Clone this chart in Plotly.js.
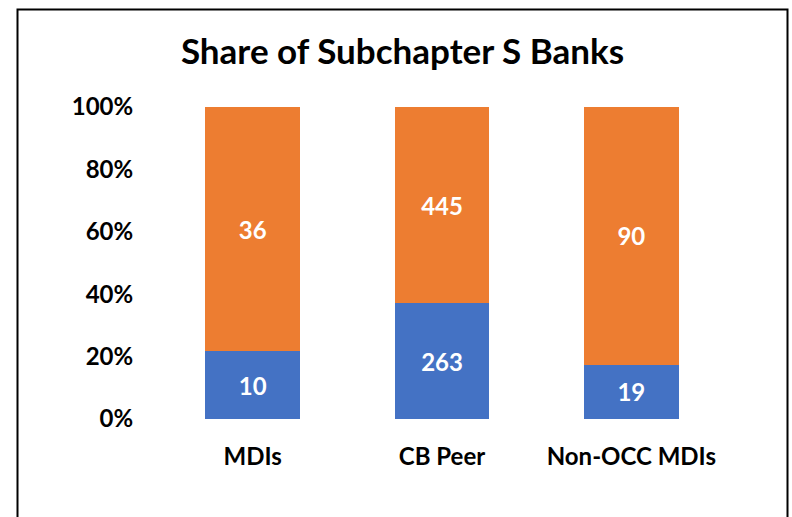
<!DOCTYPE html>
<html>
<head>
<meta charset="utf-8">
<script src="https://cdn.plot.ly/plotly-3.0.1.min.js"></script>
<style>body{margin:0;background:#fff}#chart{width:792px;height:517px}</style>
</head>
<body>
<div id="chart"></div>
<script>
const categories = ["MDIs", "CB Peer", "Non-OCC MDIs"];
const subchapterS = [10, 263, 19];
const notSubchapterS = [36, 445, 90];
const seriesNames = ["Subchapter S", "Not Subchapter S"];
const yTickVals = [0, 20, 40, 60, 80, 100];
const yTickText = ["0%", "20%", "40%", "60%", "80%", "100%"];

const FONT = "Lato, 'Open Sans', sans-serif";
const W = 792, H = 517;
const L = 158, R = 66, T = 107, B = 98;
const pw = W - L - R, ph = H - T - B;
function px(x){ return (x - L) / pw; }
function py(y){ return (H - B - y) / ph; }

const traces = [
  {type: "bar", name: seriesNames[0], x: categories, y: subchapterS,
   text: subchapterS.map(String), textposition: "inside", insidetextanchor: "middle",
   constraintext: "none", textfont: {family: FONT, size: 24, color: "#ffffff", weight: 700},
   marker: {color: "#4472C4"}, hoverinfo: "skip"},
  {type: "bar", name: seriesNames[1], x: categories, y: notSubchapterS,
   text: notSubchapterS.map(String), textposition: "inside", insidetextanchor: "middle",
   constraintext: "none", textfont: {family: FONT, size: 24, color: "#ffffff", weight: 700},
   marker: {color: "#ED7D31"}, hoverinfo: "skip"}
];

const layout = {
  width: W, height: H,
  margin: {l: L, r: R, t: T, b: B, pad: 0},
  barmode: "stack", barnorm: "percent", bargap: 0.5,
  showlegend: false,
  paper_bgcolor: "#ffffff", plot_bgcolor: "#ffffff",
  font: {family: FONT, color: "#000000"},
  title: {text: "<b>Share of Subchapter S Banks</b>", font: {family: FONT, size: 35, color: "#000"},
          x: 402.5 / W, xref: "container", xanchor: "center", y: 1 - 52 / H, yanchor: "middle"},
  xaxis: {showgrid: false, zeroline: false, showline: false,
          ticks: "outside", ticklen: 16, tickcolor: "rgba(0,0,0,0)",
          tickfont: {family: FONT, size: 24, color: "#000", weight: 700}},
  yaxis: {range: [0, 100], showgrid: false, zeroline: false, showline: false,
          tickvals: yTickVals, ticktext: yTickText,
          ticks: "outside", ticklen: 19, tickcolor: "rgba(0,0,0,0)",
          tickfont: {family: FONT, size: 24, color: "#000", weight: 700}},
  shapes: [
    {type: "rect", xref: "paper", yref: "paper", x0: px(17.5), x1: px(787.5), y0: py(540), y1: py(9.5),
     line: {color: "#000", width: 2}, fillcolor: "rgba(0,0,0,0)", layer: "above"}
  ]
};

Plotly.newPlot("chart", traces, layout, {displayModeBar: false, staticPlot: true});
</script>
</body>
</html>
